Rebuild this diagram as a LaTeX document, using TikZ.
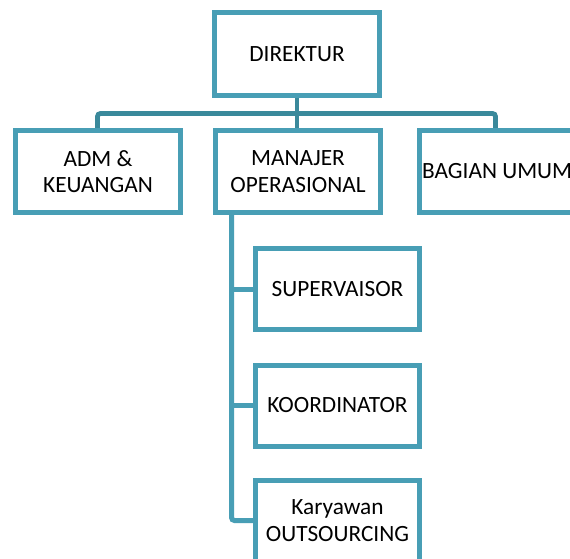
\documentclass[tikz,border=0pt]{standalone}
\usepackage{fontspec}
\setmainfont{Carlito}
\usetikzlibrary{backgrounds}
\definecolor{boxc}{RGB}{72,158,181}
\definecolor{busc}{RGB}{58,137,155}
\begin{document}
\begin{tikzpicture}[x=1pt,y=-1pt,
  orgbox/.style={draw=boxc, line width=5pt, fill=white, minimum width=165pt, minimum height=82pt,
    inner sep=0pt, align=center, font=\fontsize{23.3}{26.7}\selectfont, text=black},
  subbox/.style={orgbox, minimum width=164pt, minimum height=81pt},
  conn/.style={draw=busc, line width=4.8pt},
  conn2/.style={draw=boxc, line width=5pt}]
\useasboundingbox (0,0) rectangle (570,559);
\clip (0,0) rectangle (570,559);
\coordinate (busL) at (97.5,113.5);
\coordinate (busR) at (495.5,113.5);
\coordinate (trunk) at (231.5,213);
\node[orgbox, minimum height=83pt] (dir) at (297,54) {DIREKTUR};
\node[orgbox] (adm) at (98,171.5) {ADM \&\\KEUANGAN};
\node[orgbox] (man) at (298,171.5) {MANAJER\\OPERASIONAL};
\node[orgbox, minimum width=170pt] (bag) at (504.5,171.5) {};
\node[anchor=west, inner sep=0pt, font=\fontsize{23.3}{26.7}\selectfont, text=black] (bagt) at (422,171.5) {BAGIAN UMUM};
\node[subbox] (sup) at (337.5,289) {SUPERVAISOR};
\node[subbox] (koo) at (337.5,405.5) {KOORDINATOR};
\node[subbox] (out) at (337.5,520.5) {Karyawan\\OUTSOURCING};
\begin{scope}[on background layer]
\fill[white] (0,0) rectangle (570,559);
\draw[conn] (dir.south) -- (dir.south |- man.north);
\draw[conn, rounded corners=3pt] (busL |- adm.north) -- (busL) -- (busR) -- (busR |- bag.north);
\draw[conn2] (trunk) -- (trunk |- sup.west) -- (sup.west);
\draw[conn2] (trunk |- koo.west) -- (koo.west);
\draw[conn2, rounded corners=3pt] (trunk) |- (out.west);
\end{scope}
\end{tikzpicture}
\end{document}
